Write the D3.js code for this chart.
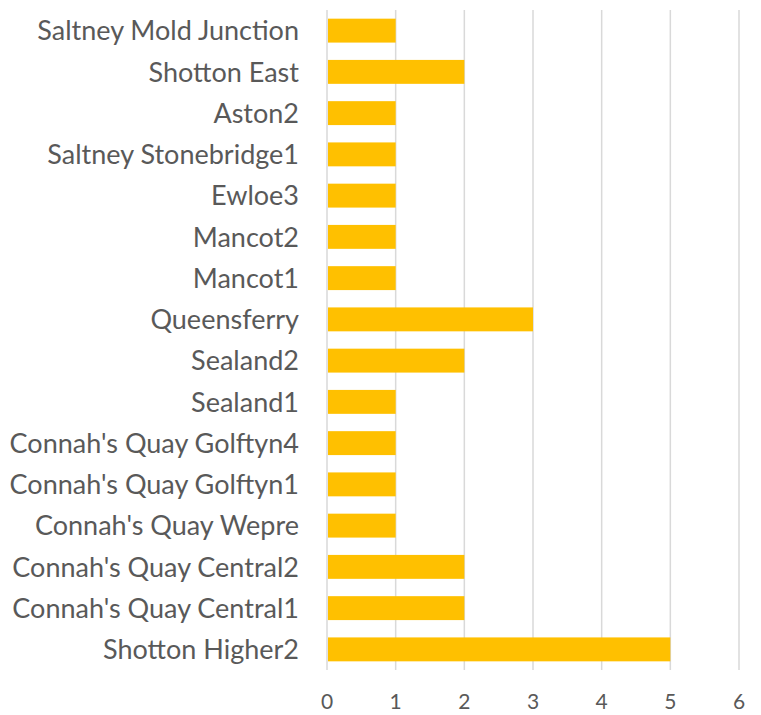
<!DOCTYPE html>
<html>
<head>
<meta charset="utf-8">
<script src="https://cdn.jsdelivr.net/npm/d3@7"></script>
<style>
  body { margin: 0; background: #fff; }
  text { font-family: Lato, "Open Sans", sans-serif; fill: #595959; }
</style>
</head>
<body>
<div id="chart"></div>
<script>
// categories top to bottom, as shown
var categories = [
  "Saltney Mold Junction", "Shotton East", "Aston2", "Saltney Stonebridge1",
  "Ewloe3", "Mancot2", "Mancot1", "Queensferry", "Sealand2", "Sealand1",
  "Connah's Quay Golftyn4", "Connah's Quay Golftyn1", "Connah's Quay Wepre",
  "Connah's Quay Central2", "Connah's Quay Central1", "Shotton Higher2"
];
var values = [1, 2, 1, 1, 1, 1, 1, 3, 2, 1, 1, 1, 1, 2, 2, 5];
var xTicks = [0, 1, 2, 3, 4, 5, 6];

var outerWidth = 761, outerHeight = 715;
var margin = {top: 10, right: 22, bottom: 45, left: 327};
var width = outerWidth - margin.left - margin.right;
var height = outerHeight - margin.top - margin.bottom;

var svg = d3.select("#chart").append("svg")
  .attr("width", outerWidth)
  .attr("height", outerHeight);

var g = svg.append("g")
  .attr("transform", "translate(" + margin.left + "," + margin.top + ")");

var x = d3.scaleLinear().domain([0, 6]).range([0, width]);
var y = d3.scaleBand().domain(categories).range([0, height]).paddingInner(0.42).paddingOuter(0.21);

// gridlines
g.selectAll("line.grid")
  .data(xTicks)
  .enter().append("line")
  .attr("class", "grid")
  .attr("x1", function(d){ return x(d); })
  .attr("x2", function(d){ return x(d); })
  .attr("y1", 0)
  .attr("y2", height)
  .attr("stroke", "#d9d9d9")
  .attr("stroke-width", 1.5);

g.selectAll("rect.bar")
  .data(values)
  .enter().append("rect")
  .attr("class", "bar")
  .attr("x", x(0) + 1)
  .attr("y", function(d, i){ return y(categories[i]); })
  .attr("width", function(d){ return x(d) - x(0) - 1; })
  .attr("height", y.bandwidth())
  .attr("fill", "#ffc000");

// x tick labels
g.selectAll("text.xt")
  .data(xTicks)
  .enter().append("text")
  .attr("class", "xt")
  .attr("x", function(d){ return x(d); })
  .attr("y", height + 39)
  .attr("text-anchor", "middle")
  .style("font-size", "21px")
  .text(function(d){ return d; });

// category labels
g.selectAll("text.yl")
  .data(categories)
  .enter().append("text")
  .attr("class", "yl")
  .attr("x", -28)
  .attr("y", function(d){ return y(d) + y.bandwidth() / 2; })
  .attr("dy", "0.36em")
  .attr("text-anchor", "end")
  .style("font-size", "27px")
  .text(function(d){ return d; });
</script>
</body>
</html>
